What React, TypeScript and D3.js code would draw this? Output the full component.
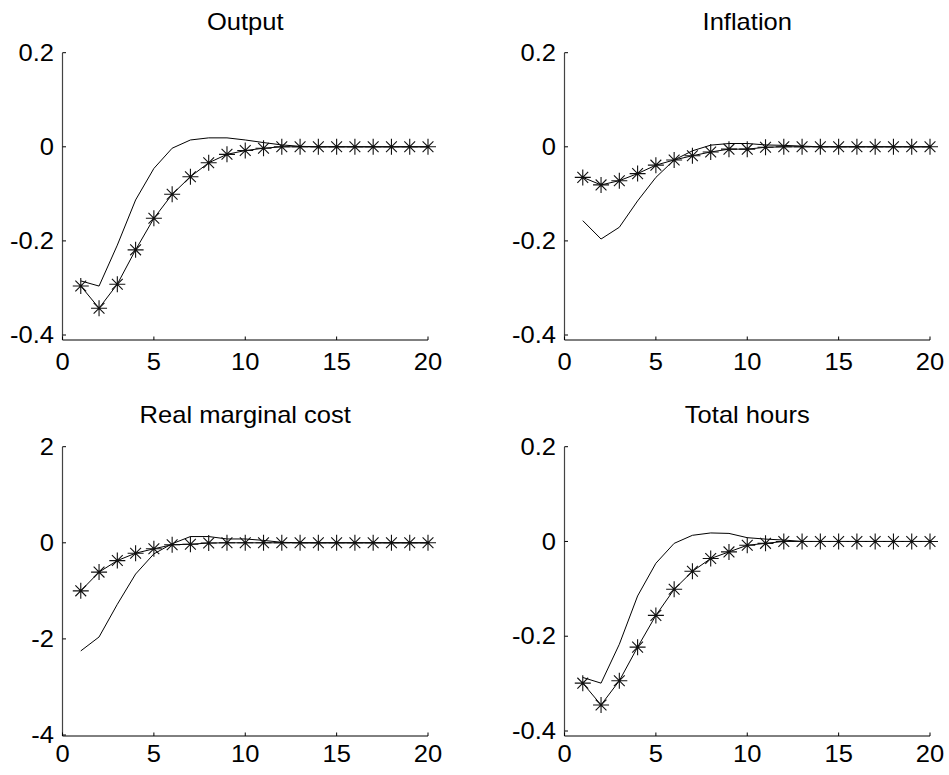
import React from "react";
import * as d3 from "d3";

const steps = [1, 2, 3, 4, 5, 6, 7, 8, 9, 10, 11, 12, 13, 14, 15, 16, 17, 18, 19, 20];
const xTicks = [0, 5, 10, 15, 20];

const outputSolid = [-0.285, -0.296, -0.209, -0.113, -0.046, -0.003, 0.0145, 0.019, 0.019, 0.0145, 0.009, 0.004, 0.001, 0, 0, 0, 0, 0, 0, 0];
const outputStar = [-0.296, -0.343, -0.292, -0.219, -0.152, -0.101, -0.0635, -0.034, -0.016, -0.008, -0.003, 0, 0, 0, 0, 0, 0, 0, 0, 0];
const inflationSolid = [-0.157, -0.196, -0.171, -0.115, -0.065, -0.028, -0.0085, 0.0035, 0.007, 0.007, 0.004, 0.003, 0.0015, 0, 0, 0, 0, 0, 0, 0];
const inflationStar = [-0.065, -0.081, -0.072, -0.057, -0.039, -0.028, -0.019, -0.011, -0.005, -0.005, -0.001, 0, 0, 0, 0, 0, 0, 0, 0, 0];
const rmcSolid = [-2.25, -1.96, -1.28, -0.65, -0.23, -0.02, 0.13, 0.13, 0.08, 0.08, 0.05, 0.01, 0, 0, 0, 0, 0, 0, 0, 0];
const rmcStar = [-1.0, -0.61, -0.37, -0.216, -0.125, -0.04, -0.03, -0.005, 0, 0, 0, 0, 0, 0, 0, 0, 0, 0, 0, 0];
const hoursSolid = [-0.287, -0.299, -0.217, -0.115, -0.046, -0.004, 0.013, 0.018, 0.017, 0.008, 0.005, 0.003, 0, 0, 0, 0, 0, 0, 0, 0];
const hoursStar = [-0.299, -0.345, -0.294, -0.223, -0.156, -0.101, -0.063, -0.036, -0.022, -0.008, -0.004, 0, 0, 0, 0, 0, 0, 0, 0, 0];

const smallTicks = [-0.4, -0.2, 0, 0.2];
const smallTickLabels = ["-0.4", "-0.2", "0", "0.2"];
const bigTicks = [-4, -2, 0, 2];
const bigTickLabels = ["-4", "-2", "0", "2"];

const titles = ["Output", "Inflation", "Real marginal cost", "Total hours"];

const FONT = "'Liberation Sans', Arial, Helvetica, sans-serif";
const STRETCH = 1.11;

type PanelSpec = {
  title: string;
  solid: number[];
  star: number[];
  ticks: number[];
  tickLabels: string[];
  left: number;
  right: number;
  topPx: number;
  bottomTickPx: number;
  axisPx: number;
  titleBaseline: number;
  xLabelBaseline: number;
};

const panels: PanelSpec[] = [
  { title: titles[0], solid: outputSolid, star: outputStar, ticks: smallTicks, tickLabels: smallTickLabels, left: 62.5, right: 428, topPx: 52.7, bottomTickPx: 335, axisPx: 340, titleBaseline: 29.5, xLabelBaseline: 370 },
  { title: titles[1], solid: inflationSolid, star: inflationStar, ticks: smallTicks, tickLabels: smallTickLabels, left: 564.5, right: 930, topPx: 52.7, bottomTickPx: 335, axisPx: 340, titleBaseline: 29.5, xLabelBaseline: 370 },
  { title: titles[2], solid: rmcSolid, star: rmcStar, ticks: bigTicks, tickLabels: bigTickLabels, left: 62.5, right: 428, topPx: 446.7, bottomTickPx: 735, axisPx: 736, titleBaseline: 423.3, xLabelBaseline: 762 },
  { title: titles[3], solid: hoursSolid, star: hoursStar, ticks: smallTicks, tickLabels: smallTickLabels, left: 564.5, right: 930, topPx: 446.7, bottomTickPx: 731, axisPx: 736, titleBaseline: 423.3, xLabelBaseline: 762 },
];

const R = 8;
const D = 5.4;
const starPath = `M${-R},0H${R}M0,${-R}V${R}M${-D},${-D}L${D},${D}M${-D},${D}L${D},${-D}`;

function STxt({ x, y, anchor, size, children }: { x: number; y: number; anchor: string; size: number; children: React.ReactNode }) {
  return (
    <g transform={`translate(${x},${y}) scale(${STRETCH},1)`}>
      <text x={0} y={0} textAnchor={anchor as any} fontFamily={FONT} fontSize={size} fill="#000">
        {children}
      </text>
    </g>
  );
}

function Panel({ p }: { p: PanelSpec }) {
  const x = d3.scaleLinear().domain([0, 20]).range([p.left, p.right]);
  const y = d3
    .scaleLinear()
    .domain([p.ticks[0], p.ticks[p.ticks.length - 1]])
    .range([p.bottomTickPx, p.topPx]);
  const line = d3
    .line<number>()
    .x((_, i) => x(steps[i]))
    .y((d) => y(d));
  const tk = 3.5;
  return (
    <g>
      <STxt x={(p.left + p.right) / 2} y={p.titleBaseline} anchor="middle" size={23}>
        {p.title}
      </STxt>
      <line x1={p.left} x2={p.left} y1={p.topPx} y2={p.axisPx} stroke="#444" strokeWidth={1.2} />
      <line x1={p.left} x2={p.right} y1={p.axisPx} y2={p.axisPx} stroke="#000" strokeWidth={1} />
      {p.ticks.map((t, i) => (
        <g key={"y" + i}>
          <line x1={p.left} x2={p.left + tk} y1={y(t)} y2={y(t)} stroke="#000" strokeWidth={1} />
          <STxt x={p.left - 8.5} y={y(t) + 8.2} anchor="end" size={23}>
            {p.tickLabels[i]}
          </STxt>
        </g>
      ))}
      {xTicks.map((t, i) => (
        <g key={"x" + i}>
          <line x1={x(t)} x2={x(t)} y1={p.axisPx} y2={p.axisPx - tk} stroke="#000" strokeWidth={1} />
          <STxt x={x(t)} y={p.xLabelBaseline} anchor="middle" size={23}>
            {String(t)}
          </STxt>
        </g>
      ))}
      <path d={line(p.solid) || ""} fill="none" stroke="#000" strokeWidth={1} />
      <path d={line(p.star) || ""} fill="none" stroke="#000" strokeWidth={1} />
      {p.star.map((v, i) => (
        <path key={"m" + i} d={starPath} transform={`translate(${x(steps[i])},${y(v)})`} fill="none" stroke="#111" strokeWidth={1.1} />
      ))}
    </g>
  );
}

export default function App() {
  return (
    <svg
      width={949}
      height={775}
      viewBox="0 0 949 775"
      style={{ position: "absolute", left: 0, top: 0, background: "#fff" }}
    >
      <rect x={0} y={0} width={949} height={775} fill="#fff" />
      {panels.map((p, i) => (
        <Panel key={i} p={p} />
      ))}
    </svg>
  );
}
